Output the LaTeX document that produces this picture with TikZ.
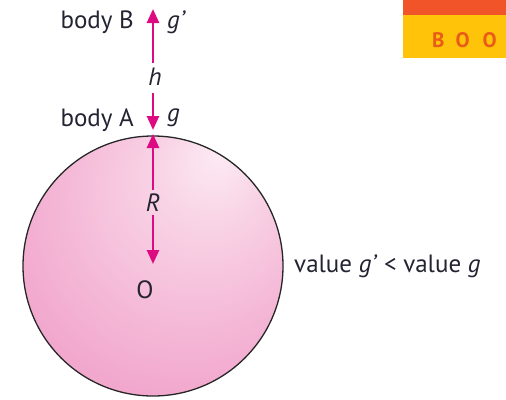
\documentclass[tikz,border=0pt]{standalone}
\usepackage{fontspec}
\setmainfont{PT Sans}
\usetikzlibrary{arrows.meta}
\definecolor{mag}{RGB}{222,10,130}
\definecolor{bandred}{RGB}{240,84,40}
\definecolor{bandyel}{RGB}{255,196,10}
\definecolor{logotxt}{RGB}{232,92,24}
\definecolor{txt}{RGB}{35,35,50}
\pgfdeclareradialshading{sphereshade}{\pgfpoint{13bp}{22bp}}{%
  rgb(0bp)=(0.99,0.92,0.955);
  rgb(10bp)=(0.975,0.83,0.90);
  rgb(28bp)=(0.955,0.70,0.83);
  rgb(48bp)=(0.935,0.57,0.755);
  rgb(60bp)=(0.93,0.54,0.74)}
\tikzset{
  lbl/.style={inner sep=0pt, text=txt, font=\fontsize{25}{29}\selectfont},
  arr/.style={draw=mag, line width=2.6pt, -{Triangle[length=14pt,width=12pt]}},
}
\begin{document}
\begin{tikzpicture}[x=1pt,y=-1pt]
\useasboundingbox (0,0) rectangle (506,399);
% logo
\fill[bandyel] (403,0) rectangle (506,58);
\fill[bandred] (403,0) rectangle (506,15);
\node[inner sep=0pt, text=logotxt, font=\bfseries\fontsize{21}{24}\selectfont, anchor=west] (logo) at (432,40) {B\kern11pt O\kern13pt O};
% sphere
\shade[shading=sphereshade] (153,266) circle[radius=130];
\draw[black!85, line width=1.3pt] (153,266) circle[radius=130];
% labels
\node[lbl] (h) at (155,77) {\itshape h};
\node[lbl] (R) at (153,203) {\itshape R};
\node[lbl] (O) at (145,290) {O};
\node[lbl, anchor=east] (bB) at (134,22) {body B};
\node[lbl, anchor=west] (gp) at (167,22) {\itshape g'};
\node[lbl, anchor=east] (bA) at (134,120) {body A};
\node[lbl, anchor=west] (g) at (167,118) {\itshape g};
\node[lbl, anchor=west] (val) at (294,266) {value \textit{g'} < value \textit{g}};
% arrow ends
\coordinate (tipB) at (153,9);
\coordinate (tipA) at (153,130);
\coordinate (surf) at (153,134);
\coordinate (tipO) at (153,264);
\draw[arr] (153,63) -- (tipB);
\draw[arr] (153,93) -- (tipA);
\draw[arr] (153,190) -- (surf);
\draw[arr] (153,215) -- (tipO);
\end{tikzpicture}
\end{document}
